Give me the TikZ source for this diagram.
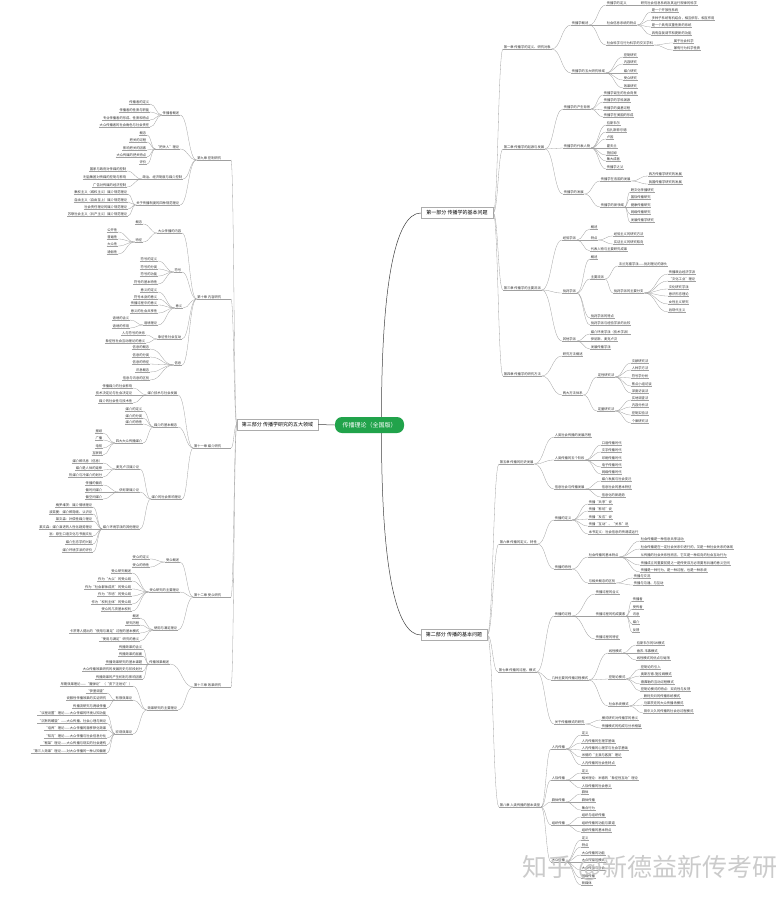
\documentclass[tikz,border=0pt]{standalone}
\usepackage{fontspec}
\setmainfont{Noto Sans CJK SC}
\usepackage{tikz}
\usetikzlibrary{calc,shadows}
\definecolor{rootgreen}{HTML}{21A34B}
\definecolor{linegray}{HTML}{A0A0A0}
\tikzset{
  ul/.style={draw=linegray,line width=0.3pt},
  lf/.style={font=\fontsize{3.3}{3.6}\selectfont,text=black!80,inner xsep=0.8pt,inner ysep=0.6pt,outer sep=0pt,
    append after command={(\tikzlastnode.south west) edge[ul] (\tikzlastnode.south east)}},
  part/.style={draw=gray!65,fill=white,line width=0.4pt,font=\fontsize{5}{6}\selectfont,inner xsep=3pt,minimum height=10pt,
    drop shadow={opacity=0.2,shadow xshift=0.7pt,shadow yshift=-0.7pt}},
  hub/.style={fill=rootgreen,text=white,rounded corners=7pt,font=\fontsize{6}{7}\selectfont,minimum width=69pt,minimum height=16pt},
  trunk/.style={draw=black!75,line width=0.5pt}
}
\newcommand{\wire}[2]{\draw[ul] let \p1=(#1), \p2=(#2), \p3=($(\p1)!0.5!(\p2)$) in (\p1) .. controls (\x3,\y1) and (\x3,\y2) .. (\p2);}
\newcommand{\rch}[5]{\node[lf,anchor=south west] (#1) at (#3,#4) {#5}; \wire{#2}{#1.south west}}
\newcommand{\rleaf}[5]{\node[lf,anchor=south west] (#1) at (#3,#4) {#5}; \wire{#2.south east}{#1.south west}}
\newcommand{\lleaf}[5]{\node[lf,anchor=south east] (#1) at (#3,#4) {#5}; \wire{#2.south west}{#1.south east}}
\newcommand{\lch}[4]{\node[lf,anchor=south east] (#1) at (#2,#3) {#4};
  \draw[ul] (#1.south east) -- ([xshift=9pt]#1.south east); \wire{pc.west}{[xshift=9pt]#1.south east}}

\begin{document}
\begin{tikzpicture}[x=1pt,y=-1pt]
\fill[white] (0,0) rectangle (780,900);
\useasboundingbox (0,0) rectangle (780,900);

\node[hub] (rt) at (369.5,425) {传播理论（全国版）};
\node[part,minimum width=72pt] (pa) at (457,213) {第一部分 传播学的基本问题};
\node[part,minimum width=66pt] (pb) at (454,635) {第二部分 传播的基本问题};
\node[part,minimum width=81pt] (pc) at (277.5,424.5) {第三部分 传播学研究的五大领域};
\draw[trunk] ([xshift=12pt]rt.north) .. controls +(0,-130) and +(-26,0) .. (pa.west);
\draw[trunk] ([xshift=12pt]rt.south) .. controls +(0,130) and +(-26,0) .. (pb.west);
\draw[trunk] (rt.west) -- (pc.east);

\rch{ca}{pa.east}{503}{49}{第一章 传播学的定义、研究对象}
\rleaf{ca1}{ca}{571}{25}{传播学概述}
\rleaf{ca11}{ca1}{606}{5}{传播学的定义}
\rleaf{ca111}{ca11}{640}{5}{研究社会信息系统及其运行规律的科学}
\rleaf{ca12}{ca1}{606}{25}{社会信息系统的特点}
\rleaf{ca121}{ca12}{651}{12}{是一个开放性系统}
\rleaf{ca122}{ca12}{651}{20}{多种子系统有机结合，相互依存、相互作用}
\rleaf{ca123}{ca12}{651}{27}{是一个具有双重性质的系统}
\rleaf{ca124}{ca12}{651}{35}{具有自我调节和更新的功能}
\rleaf{ca13}{ca1}{606}{45}{社会科学与行为科学的交叉学科}
\rleaf{ca131}{ca13}{673}{43}{属于社会科学}
\rleaf{ca132}{ca13}{673}{50}{兼有行为科学性质}
\rleaf{ca2}{ca}{571}{73}{传播学的五大研究领域}
\rleaf{ca21}{ca2}{623}{57}{控制研究}
\rleaf{ca22}{ca2}{623}{64}{内容研究}
\rleaf{ca23}{ca2}{623}{73}{媒介研究}
\rleaf{ca24}{ca2}{623}{80}{受众研究}
\rleaf{ca25}{ca2}{623}{88}{效果研究}

\rch{cb}{pa.east}{503}{149}{第二章 传播学的起源与发展}
\rleaf{cb1}{cb}{563}{109}{传播学的产生背景}
\rleaf{cb11}{cb1}{603}{95}{传播学诞生的社会背景}
\rleaf{cb12}{cb1}{603}{102}{传播学的学科渊源}
\rleaf{cb13}{cb1}{603}{110}{传播学的奠基过程}
\rleaf{cb14}{cb1}{603}{117}{传播学在美国的形成}
\rleaf{cb2}{cb}{563}{148}{传播学的代表人物}
\rleaf{cb21}{cb2}{606}{125}{拉斯韦尔}
\rleaf{cb22}{cb2}{606}{132}{拉扎斯菲尔德}
\rleaf{cb23}{cb2}{606}{139}{卢因}
\rleaf{cb24}{cb2}{606}{148}{霍夫兰}
\rleaf{cb25}{cb2}{606}{155}{施拉姆}
\rleaf{cb26}{cb2}{606}{161}{集大成者}
\rleaf{cb27}{cb2}{606}{169}{传播学之父}
\rleaf{cb3}{cb}{563}{194}{传播学的发展}
\rleaf{cb31}{cb3}{600}{181}{传播学在各国的发展}
\rleaf{cb311}{cb31}{648}{176}{西方传播学研究的发展}
\rleaf{cb312}{cb31}{648}{184}{我国传播学研究的发展}
\rleaf{cb32}{cb3}{600}{207}{传播学的新领域}
\rleaf{cb321}{cb32}{630}{192}{跨文化传播研究}
\rleaf{cb322}{cb32}{630}{199}{国际传播研究}
\rleaf{cb323}{cb32}{630}{207}{健康传播研究}
\rleaf{cb324}{cb32}{630}{214}{网络传播研究}
\rleaf{cb325}{cb32}{630}{222}{发展传播学研究}

\rch{cc}{pa.east}{503}{290}{第三章 传播学的主要流派}
\rleaf{cc1}{cc}{562}{240}{经验学派}
\rleaf{cc11}{cc1}{590}{229}{概述}
\rleaf{cc12}{cc1}{590}{240}{特点}
\rleaf{cc121}{cc12}{613}{236}{经验主义的研究方法}
\rleaf{cc122}{cc12}{613}{244}{实证主义的研究取向}
\rleaf{cc13}{cc1}{590}{251}{代表人物与主要研究成果}
\rleaf{cc2}{cc}{562}{293}{批判学派}
\rleaf{cc21}{cc2}{590}{259}{概述}
\rleaf{cc22}{cc2}{590}{279}{主要流派}
\rleaf{cc221}{cc22}{618}{266}{法兰克福学派——批判理论的源头}
\rleaf{cc222}{cc22}{613}{293}{批判学派的主要分支}
\rleaf{cc2221}{cc222}{668}{274}{传播政治经济学派}
\rleaf{cc2222}{cc222}{668}{281}{“文化工业”理论}
\rleaf{cc2223}{cc222}{668}{289}{文化研究学派}
\rleaf{cc2224}{cc222}{668}{296}{意识形态理论}
\rleaf{cc2225}{cc222}{668}{304}{女性主义研究}
\rleaf{cc2226}{cc222}{668}{312}{后现代主义}
\rleaf{cc23}{cc2}{590}{318}{批判学派的特点}
\rleaf{cc24}{cc2}{590}{325}{批判学派与经验学派的比较}
\rleaf{cc3}{cc}{562}{341}{其他学派}
\rleaf{cc31}{cc3}{590}{334}{媒介环境学派（技术学派）}
\rleaf{cc32}{cc3}{590}{341}{伊尼斯、麦克卢汉}
\rleaf{cc33}{cc3}{590}{349}{发展传播学派}

\rch{cd}{pa.east}{503}{376}{第四章 传播学的研究方法}
\rleaf{cd1}{cd}{562}{356}{研究方法概述}
\rleaf{cd2}{cd}{562}{395}{两大方法体系}
\rleaf{cd21}{cd2}{597}{377}{定性研究法}
\rleaf{cd211}{cd21}{631}{363}{文献研究法}
\rleaf{cd212}{cd21}{631}{370}{人种学方法}
\rleaf{cd213}{cd21}{631}{378}{符号学分析}
\rleaf{cd214}{cd21}{631}{386}{焦点小组访谈}
\rleaf{cd215}{cd21}{631}{393}{深度访谈法}
\rleaf{cd22}{cd2}{597}{411}{定量研究法}
\rleaf{cd221}{cd22}{631}{400}{实地调查法}
\rleaf{cd222}{cd22}{631}{407}{内容分析法}
\rleaf{cd223}{cd22}{631}{415}{控制实验法}
\rleaf{cd224}{cd22}{631}{423}{个案研究法}

\rch{ce}{pb.east}{499}{464}{第五章 传播的历史发展}
\rleaf{ce1}{ce}{554}{437}{人类社会传播的发展历程}
\rleaf{ce2}{ce}{554}{460}{人类传播的五个阶段}
\rleaf{ce21}{ce2}{601}{445}{口语传播时代}
\rleaf{ce22}{ce2}{601}{452}{文字传播时代}
\rleaf{ce23}{ce2}{601}{460}{印刷传播时代}
\rleaf{ce24}{ce2}{601}{467}{电子传播时代}
\rleaf{ce25}{ce2}{601}{474}{网络传播时代}
\rleaf{ce3}{ce}{554}{489}{信息社会与传播发展}
\rleaf{ce31}{ce3}{601}{481}{媒介发展与社会变迁}
\rleaf{ce32}{ce3}{601}{489}{信息社会的基本特征}
\rleaf{ce33}{ce3}{601}{497}{信息化的新趋势}

\rch{cf}{pb.east}{499}{544}{第六章 传播的定义、特性}
\rleaf{cf1}{cf}{554}{520}{传播的定义}
\rleaf{cf11}{cf1}{588}{504}{传播“共享”说}
\rleaf{cf12}{cf1}{588}{511}{传播“影响”说}
\rleaf{cf13}{cf1}{588}{519}{传播“反应”说}
\rleaf{cf14}{cf1}{588}{526}{传播“互动”、“关系”说}
\rleaf{cf15}{cf1}{588}{534}{本书定义：社会信息的传递或运行}
\rleaf{cf2}{cf}{554}{569}{传播的特性}
\rleaf{cf21}{cf2}{588}{557}{社会传播的基本特点}
\rleaf{cf211}{cf21}{640}{541}{社会传播是一种信息共享活动}
\rleaf{cf212}{cf21}{640}{549}{社会传播是在一定社会关系中进行的，又是一种社会关系的体现}
\rleaf{cf213}{cf21}{640}{557}{从传播的社会关系性而言，它又是一种双向的社会互动行为}
\rleaf{cf214}{cf21}{640}{565}{传播成立的重要前提之一是传受双方必须要有共通的意义空间}
\rleaf{cf215}{cf21}{640}{572}{传播是一种行为，是一种过程，也是一种系统}
\rleaf{cf22}{cf2}{588}{583}{与相关概念的区别}
\rleaf{cf221}{cf22}{633}{578}{传播与交流}
\rleaf{cf222}{cf22}{633}{585}{传播与沟通、与互动}

\rch{cg}{pb.east}{498}{672}{第七章 传播的过程、模式}
\rleaf{cg1}{cg}{554}{616}{传播的过程}
\rleaf{cg11}{cg1}{595}{594}{传播过程的含义}
\rleaf{cg12}{cg1}{595}{616}{传播过程的构成要素}
\rleaf{cg121}{cg12}{632}{601}{传播者}
\rleaf{cg122}{cg12}{632}{609}{受传者}
\rleaf{cg123}{cg12}{632}{616}{讯息}
\rleaf{cg124}{cg12}{632}{624}{媒介}
\rleaf{cg125}{cg12}{632}{632}{反馈}
\rleaf{cg13}{cg1}{595}{639}{传播过程的特征}
\rleaf{cg2}{cg}{551}{680}{几种主要的传播过程模式}
\rleaf{cg21}{cg2}{608}{653}{线性模式}
\rleaf{cg211}{cg21}{636}{645}{拉斯韦尔的5W模式}
\rleaf{cg212}{cg21}{636}{653}{香农-韦弗模式}
\rleaf{cg213}{cg21}{636}{660}{线性模式的优点与局限}
\rleaf{cg22}{cg2}{608}{679}{控制论模式}
\rleaf{cg221}{cg22}{640}{669}{控制论的引入}
\rleaf{cg222}{cg22}{640}{676}{奥斯古德-施拉姆模式}
\rleaf{cg223}{cg22}{640}{684}{德弗勒的互动过程模式}
\rleaf{cg224}{cg22}{640}{691}{控制论模式的特点：双向性与反馈}
\rleaf{cg23}{cg2}{608}{706}{社会系统模式}
\rleaf{cg231}{cg23}{643}{698}{赖利夫妇的传播系统模式}
\rleaf{cg232}{cg23}{643}{705}{马莱茨克的大众传播场模式}
\rleaf{cg233}{cg23}{643}{713}{田中义久的传播的社会总过程模式}
\rleaf{cg3}{cg}{554}{724}{关于传播模式的研究}
\rleaf{cg31}{cg3}{601}{720}{模式研究对传播学的意义}
\rleaf{cg32}{cg3}{601}{728}{传播模式的构成与分析框架}

\rch{ch}{pb.east}{499}{807}{第八章 人类传播的基本类型}
\rleaf{ch1}{ch}{551}{749}{人内传播}
\rleaf{ch11}{ch1}{581}{735}{定义}
\rleaf{ch12}{ch1}{581}{743}{人内传播的生理学基础}
\rleaf{ch13}{ch1}{581}{750}{人内传播的心理学与社会学基础}
\rleaf{ch14}{ch1}{581}{757}{米德的“主我与客我”理论}
\rleaf{ch15}{ch1}{581}{765}{人内传播的社会性特点}
\rleaf{ch2}{ch}{551}{780}{人际传播}
\rleaf{ch21}{ch2}{581}{773}{定义}
\rleaf{ch22}{ch2}{581}{780}{相关理论：米德的“象征性互动”理论}
\rleaf{ch23}{ch2}{581}{788}{人际传播的社会意义}
\rleaf{ch3}{ch}{551}{802}{群体传播}
\rleaf{ch31}{ch3}{581}{794}{群体}
\rleaf{ch32}{ch3}{581}{802}{群体传播}
\rleaf{ch33}{ch3}{581}{810}{集合行为}
\rleaf{ch4}{ch}{551}{825}{组织传播}
\rleaf{ch41}{ch4}{581}{817}{组织与组织传播}
\rleaf{ch42}{ch4}{581}{825}{组织传播的功能与渠道}
\rleaf{ch43}{ch4}{581}{832}{组织传播的基本特点}
\rleaf{ch5}{ch}{551}{862}{大众传播}
\rleaf{ch51}{ch5}{581}{840}{定义}
\rleaf{ch52}{ch5}{581}{847}{特点}
\rleaf{ch53}{ch5}{581}{855}{大众传播的功能}
\rleaf{ch54}{ch5}{581}{862}{大众传播的模式}
\rleaf{ch55}{ch5}{581}{870}{大众传播与社会}
\rleaf{ch56}{ch5}{581}{878}{网络传播}
\rleaf{ch57}{ch5}{581}{885}{新媒体}

\lch{ci}{222}{160}{第九章 控制研究}
\lleaf{ci1}{ci}{180}{115}{传播者概述}
\lleaf{ci11}{ci1}{150}{104}{传播者的定义}
\lleaf{ci12}{ci1}{150}{112}{传播者的性质与职能}
\lleaf{ci13}{ci1}{150}{120}{专业传播者的形成、性质和特点}
\lleaf{ci14}{ci1}{150}{127}{大众传播者的社会角色与社会责任}
\lleaf{ci2}{ci}{180}{149}{“把关人”理论}
\lleaf{ci21}{ci2}{147}{135}{概念}
\lleaf{ci22}{ci2}{147}{142}{把关的过程}
\lleaf{ci23}{ci2}{147}{150}{影响把关的因素}
\lleaf{ci24}{ci2}{147}{157}{大众传媒的把关特点}
\lleaf{ci25}{ci2}{147}{164}{评价}
\lleaf{ci3}{ci}{183}{179}{政治、经济制度与媒介控制}
\lleaf{ci31}{ci3}{127}{171}{国家与政府对传媒的控制}
\lleaf{ci32}{ci3}{127}{179}{利益集团对传媒的控制与影响}
\lleaf{ci33}{ci3}{127}{187}{广告对传媒的经济控制}
\lleaf{ci4}{ci}{180}{205}{关于传播制度的四种规范理论}
\lleaf{ci41}{ci4}{128}{194}{集权主义（威权主义）媒介规范理论}
\lleaf{ci42}{ci4}{128}{202}{自由主义（自由至上）媒介规范理论}
\lleaf{ci43}{ci4}{128}{209}{社会责任理论的媒介规范理论}
\lleaf{ci44}{ci4}{128}{216}{苏联社会主义（共产主义）媒介规范理论}

\lch{cj}{222}{299}{第十章 内容研究}
\lleaf{cj1}{cj}{182}{233}{大众传播的内容}
\lleaf{cj11}{cj1}{143}{224}{概念}
\lleaf{cj12}{cj1}{143}{242}{特征}
\lleaf{cj121}{cj12}{118}{232}{公开性}
\lleaf{cj122}{cj12}{118}{239}{普遍性}
\lleaf{cj123}{cj12}{118}{246}{大众性}
\lleaf{cj124}{cj12}{118}{254}{通俗性}
\lleaf{cj2}{cj}{182}{272}{符号}
\lleaf{cj21}{cj2}{158}{261}{符号的定义}
\lleaf{cj22}{cj2}{158}{269}{符号的分类}
\lleaf{cj23}{cj2}{158}{276}{符号的功能}
\lleaf{cj24}{cj2}{158}{284}{符号的基本特性}
\lleaf{cj3}{cj}{183}{308}{意义}
\lleaf{cj31}{cj3}{158}{292}{意义的定义}
\lleaf{cj32}{cj3}{158}{299}{符号本身的意义}
\lleaf{cj33}{cj3}{158}{305}{传播过程中的意义}
\lleaf{cj34}{cj3}{158}{313}{意义的社会共享性}
\lleaf{cj35}{cj3}{158}{325}{语境理论}
\lleaf{cj351}{cj35}{130}{320}{语境的含义}
\lleaf{cj352}{cj35}{130}{328}{语境的作用}
\lleaf{cj4}{cj}{182}{339}{象征性社会互动}
\lleaf{cj41}{cj4}{146}{335}{人与符号的关系}
\lleaf{cj42}{cj4}{146}{343}{象征性社会互动理论的意义}
\lleaf{cj5}{cj}{182}{365}{信息}
\lleaf{cj51}{cj5}{150}{349}{信息的概念}
\lleaf{cj52}{cj5}{150}{357}{信息的分类}
\lleaf{cj53}{cj5}{150}{364}{信息的特征}
\lleaf{cj54}{cj5}{150}{372}{讯息概念}
\lleaf{cj55}{cj5}{150}{380}{信息与讯息的区别}

\lch{ck}{222}{448}{第十一章 媒介研究}
\lleaf{ck1}{ck}{178}{395}{媒介技术与社会发展}
\lleaf{ck11}{ck1}{133}{388}{传播媒介的社会影响}
\lleaf{ck12}{ck1}{133}{395}{技术决定论与社会决定论}
\lleaf{ck13}{ck1}{133}{403}{媒介的社会性与技术性}
\lleaf{ck2}{ck}{178}{427}{媒介的基本概念}
\lleaf{ck21}{ck2}{143}{411}{媒介的定义}
\lleaf{ck22}{ck2}{143}{418}{媒介的分类}
\lleaf{ck23}{ck2}{143}{424}{媒介的特性}
\lleaf{ck24}{ck2}{143}{443}{四大大众传播媒介}
\lleaf{ck241}{ck24}{103}{433}{报纸}
\lleaf{ck242}{ck24}{103}{440}{广播}
\lleaf{ck243}{ck24}{103}{448}{电视}
\lleaf{ck244}{ck24}{103}{455}{互联网}
\lleaf{ck3}{ck}{182}{499}{媒介的社会影响理论}
\lleaf{ck31}{ck3}{140}{469}{麦克卢汉媒介论}
\lleaf{ck311}{ck31}{103}{463}{媒介即讯息（信息）}
\lleaf{ck312}{ck31}{103}{470}{媒介是人体的延伸}
\lleaf{ck313}{ck31}{103}{477}{热媒介与冷媒介的划分}
\lleaf{ck32}{ck3}{140}{492}{伊尼斯媒介论}
\lleaf{ck321}{ck32}{103}{485}{传播的偏向}
\lleaf{ck322}{ck32}{103}{492}{偏时间媒介}
\lleaf{ck323}{ck32}{103}{499}{偏空间媒介}
\lleaf{ck33}{ck3}{140}{529}{媒介环境学派的其他理论}
\lleaf{ck331}{ck33}{93}{507}{梅罗维茨：媒介情境理论}
\lleaf{ck332}{ck33}{93}{514}{波兹曼：媒介即隐喻、认识论}
\lleaf{ck333}{ck33}{93}{521}{莱文森：补偿性媒介理论}
\lleaf{ck334}{ck33}{93}{529}{莱文森：媒介演进的人性化趋势理论}
\lleaf{ck335}{ck33}{93}{536}{翁：原生口语文化与书面文化}
\lleaf{ck336}{ck33}{93}{544}{媒介生态学的兴起}
\lleaf{ck337}{ck33}{93}{552}{媒介环境学派的评价}

\lch{cl}{222}{597}{第十二章 受众研究}
\lleaf{cl1}{cl}{180}{562}{受众概述}
\lleaf{cl11}{cl1}{150}{559}{受众的定义}
\lleaf{cl12}{cl1}{150}{567}{受众的特性}
\lleaf{cl2}{cl}{180}{592}{受众研究的主要理论}
\lleaf{cl21}{cl2}{132}{573}{受众研究概述}
\lleaf{cl22}{cl2}{132}{581}{作为“大众”的受众观}
\lleaf{cl23}{cl2}{132}{589}{作为“社会群体成员”的受众观}
\lleaf{cl24}{cl2}{132}{596}{作为“市场”的受众观}
\lleaf{cl25}{cl2}{132}{604}{作为“权利主体”的受众观}
\lleaf{cl26}{cl2}{132}{611}{受众的几项基本权利}
\lleaf{cl3}{cl}{178}{630}{使用与满足理论}
\lleaf{cl31}{cl3}{140}{618}{概述}
\lleaf{cl32}{cl3}{140}{625}{研究历程}
\lleaf{cl33}{cl3}{140}{633}{卡茨等人提出的“使用与满足”过程的基本模式}
\lleaf{cl34}{cl3}{140}{641}{“使用与满足”研究的意义}

\lch{cm}{222}{687}{第十三章 效果研究}
\lleaf{cm1}{cm}{170}{664}{传播效果概述}
\lleaf{cm11}{cm1}{143}{649}{传播效果的含义}
\lleaf{cm12}{cm1}{143}{656}{传播效果的层面}
\lleaf{cm13}{cm1}{143}{664}{传播效果研究的基本课题}
\lleaf{cm14}{cm1}{143}{671}{大众传播效果研究的发展历史与阶段划分}
\lleaf{cm15}{cm1}{143}{679}{传播效果的产生机制与影响因素}
\lleaf{cm2}{cm}{178}{710}{效果研究的主要理论}
\lleaf{cm21}{cm2}{133}{686}{早期效果理论——“魔弹论”（“皮下注射论”）}
\lleaf{cm22}{cm2}{133}{700}{有限效果论}
\lleaf{cm221}{cm22}{107}{693}{“伊里调查”}
\lleaf{cm222}{cm22}{107}{700}{说服性传播效果的实证研究}
\lleaf{cm223}{cm22}{107}{708}{传播流研究与两级传播}
\lleaf{cm23}{cm2}{133}{734}{宏观效果论}
\lleaf{cm231}{cm23}{107}{715}{“议程设置”理论——大众传媒的环境认知功能}
\lleaf{cm232}{cm23}{107}{723}{“沉默的螺旋”——大众传播、社会心理与舆论}
\lleaf{cm233}{cm23}{107}{730}{“培养”理论——大众传播的潜移默化效果}
\lleaf{cm234}{cm23}{107}{738}{“知沟”理论——大众传播与社会信息分化}
\lleaf{cm235}{cm23}{107}{745}{“框架”理论——大众传播与现实的社会建构}
\lleaf{cm236}{cm23}{107}{753}{“第三人效果”理论——对大众传播的一种认知偏差}

\node[text=gray!45,opacity=0.9,font=\fontsize{25}{25}\selectfont] (wm) at (650,868) {知乎 @新德益新传考研};
\end{tikzpicture}
\end{document}
